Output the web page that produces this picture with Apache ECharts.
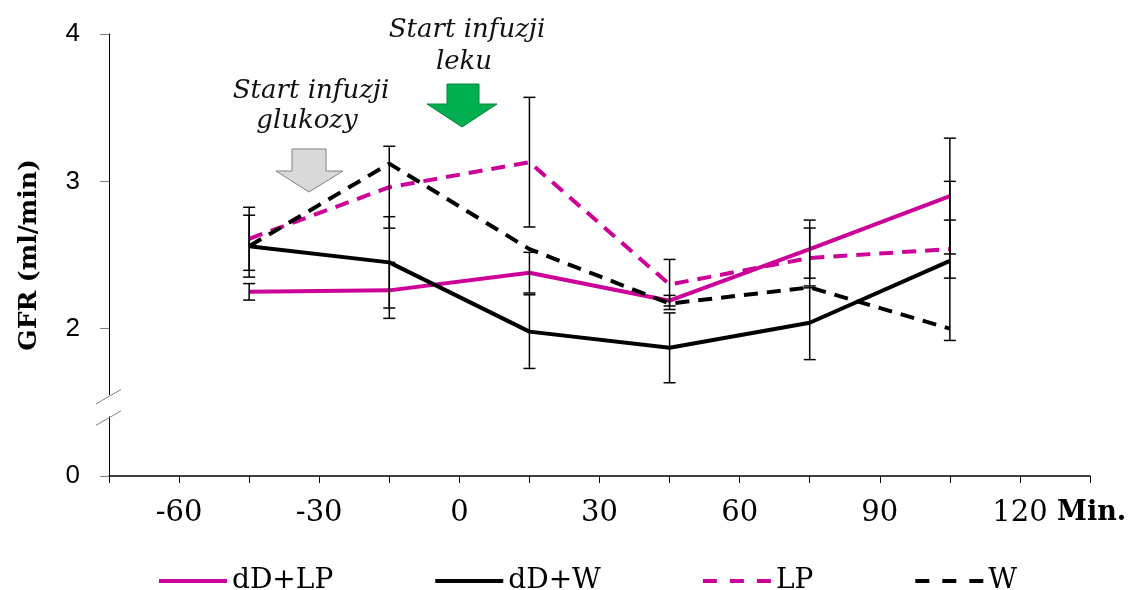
<!DOCTYPE html>
<html>
<head>
<meta charset="utf-8">
<script src="https://cdn.jsdelivr.net/npm/echarts@6/dist/echarts.min.js"></script>
<style>
  html, body { margin: 0; padding: 0; background: #fff; }
  #chart { width: 1129px; height: 590px; }
</style>
</head>
<body>
<div id="chart"></div>
<script>
// Sampling times (min) and mean GFR (ml/min) per group, with SD for error bars
const times = [-45, -15, 15, 45, 75, 105];
const xTickLabels = [-60, -30, 0, 30, 60, 90, 120];
const yTickLabels = ['0', '2', '3', '4'];

const dDLP    = [2.25, 2.26, 2.38, 2.19, 2.54, 2.90];
const dDLPErr = [0.056, 0.19, 0.138, 0.036, 0.197, 0.393];
const dDW     = [2.56, 2.45, 1.98, 1.87, 2.04, 2.46];
const dDWErr  = [0.21, 0.31, 0.25, 0.237, 0.25, 0.54];
const LP      = [2.61, 2.96, 3.13, 2.30, 2.48, 2.54];
const LPErr   = [0.214, 0.278, 0.44, 0.17, 0.203, 0.197];
const W       = [2.56, 3.12, 2.54, 2.17, 2.28, 2.00];

const MAGENTA = '#cc0099';
const BLACK = '#000000';
const SERIF = '"DejaVu Serif", serif';

const pairs = vals => times.map((t, i) => [t, vals[i]]);
const errData = (vals, errs) => times.map((t, i) => [t, vals[i] - errs[i], vals[i] + errs[i]]);

function errorBars(params, api) {
  const x = api.value(0);
  const lo = api.coord([x, api.value(1)]);
  const hi = api.coord([x, api.value(2)]);
  const cap = 6;
  const st = { stroke: BLACK, lineWidth: 1.5 };
  return {
    type: 'group',
    children: [
      { type: 'line', shape: { x1: hi[0], y1: hi[1], x2: lo[0], y2: lo[1] }, style: st },
      { type: 'line', shape: { x1: hi[0] - cap, y1: hi[1], x2: hi[0] + cap, y2: hi[1] }, style: st },
      { type: 'line', shape: { x1: lo[0] - cap, y1: lo[1], x2: lo[0] + cap, y2: lo[1] }, style: st }
    ]
  };
}

const lineSeries = (name, vals, color, dashed) => ({
  name: name,
  type: 'line',
  data: pairs(vals),
  symbol: 'none',
  z: 3,
  lineStyle: { color: color, width: 4, type: dashed ? [14, 9] : 'solid' },
  itemStyle: { color: color }
});

const errSeries = (vals, errs) => ({
  type: 'custom',
  renderItem: errorBars,
  data: errData(vals, errs),
  z: 4,
  silent: true
});

const chart = echarts.init(document.getElementById('chart'), null, { renderer: 'canvas' });

chart.setOption({
  animation: false,
  backgroundColor: '#ffffff',
  grid: { left: 109, right: 39, top: 34, bottom: 114, outerBoundsMode: 'none' },
  legend: {
    left: 152,
    top: 562,
    itemWidth: 68,
    itemHeight: 14,
    itemGap: 100,
    itemStyle: { color: 'rgba(0,0,0,0)', borderWidth: 0, opacity: 0 },
    lineStyle: { width: 4 },
    textStyle: { fontFamily: SERIF, fontSize: 28, color: BLACK },
    data: [
      { name: 'dD+LP' },
      { name: 'dD+W' },
      { name: 'LP', lineStyle: { width: 4, type: [14, 13] } },
      { name: 'W', lineStyle: { width: 4, type: [14, 13] } }
    ]
  },
  xAxis: {
    type: 'value',
    min: -75,
    max: 135,
    interval: 15,
    name: 'Min.',
    nameLocation: 'end',
    nameGap: -33,
    nameTextStyle: {
      fontFamily: SERIF, fontSize: 27, fontWeight: 'bold', color: BLACK,
      align: 'left', verticalAlign: 'top', padding: [23, 0, 0, 0]
    },
    axisLine: { onZero: false, lineStyle: { color: BLACK, width: 1.5 } },
    axisTick: { length: 7, lineStyle: { color: BLACK, width: 1 } },
    splitLine: { show: false },
    axisLabel: {
      margin: 23,
      fontFamily: SERIF,
      fontSize: 29,
      color: BLACK,
      formatter: v => (xTickLabels.indexOf(v) >= 0 ? String(v) : '')
    }
  },
  yAxis: {
    type: 'value',
    min: 1,
    max: 4,
    interval: 1,
    name: 'GFR (ml/min)',
    nameLocation: 'middle',
    nameRotate: 90,
    nameGap: 67,
    nameTextStyle: { fontFamily: SERIF, fontSize: 25, fontWeight: 'bold', color: BLACK },
    axisLine: { show: true, onZero: false, lineStyle: { color: BLACK, width: 1 } },
    axisTick: { show: true, length: 9, lineStyle: { color: '#808080', width: 1 } },
    splitLine: { show: false },
    axisLabel: {
      margin: 29,
      fontFamily: '"Liberation Sans", Arial, sans-serif',
      fontSize: 26,
      color: BLACK,
      // the lowest tick stands for 0 across the axis break
      formatter: v => yTickLabels[v - 1]
    }
  },
  series: [
    lineSeries('dD+LP', dDLP, MAGENTA, false),
    lineSeries('dD+W', dDW, BLACK, false),
    lineSeries('LP', LP, MAGENTA, true),
    lineSeries('W', W, BLACK, true),
    errSeries(dDLP, dDLPErr),
    errSeries(dDW, dDWErr),
    errSeries(LP, LPErr)
  ]
});

// Axis break marks, arrows and infusion notes
const axisX = chart.convertToPixel({ xAxisIndex: 0 }, -75);
const breakTop = chart.convertToPixel({ yAxisIndex: 0 }, 1.55);
const breakBottom = chart.convertToPixel({ yAxisIndex: 0 }, 1.405);
const slash = (cy) => ({
  type: 'line',
  shape: { x1: axisX - 13, y1: cy + 7.5, x2: axisX + 12, y2: cy - 7 },
  style: { stroke: '#808080', lineWidth: 1 },
  z: 11
});

const noteFont = 'italic 26px "DejaVu Serif", serif';
const note = (text, x, y) => ({
  type: 'text',
  x: x, y: y,
  style: { text: text, font: noteFont, fill: '#111', align: 'center', verticalAlign: 'middle' }
});

chart.setOption({
  graphic: [
    {
      type: 'rect',
      shape: { x: axisX - 3, y: breakTop, width: 6, height: breakBottom - breakTop },
      style: { fill: '#ffffff' },
      z: 10
    },
    slash(breakTop + 1.5),
    slash(breakBottom + 1.5),
    {
      type: 'polygon',
      shape: { points: [[292, 149], [326, 149], [326, 171], [343, 171], [309, 192], [276, 171], [292, 171]] },
      style: { fill: '#d9d9d9', stroke: '#808080', lineWidth: 1 }
    },
    {
      type: 'polygon',
      shape: { points: [[447, 84], [479, 84], [479, 104], [497, 104], [462, 127], [427, 104], [447, 104]] },
      style: { fill: '#00b050', stroke: '#00863c', lineWidth: 1 }
    },
    note('Start infuzji', 467, 30),
    note('leku', 464, 62),
    note('Start infuzji', 311, 91),
    note('glukozy', 307, 121)
  ]
});
</script>
</body>
</html>
